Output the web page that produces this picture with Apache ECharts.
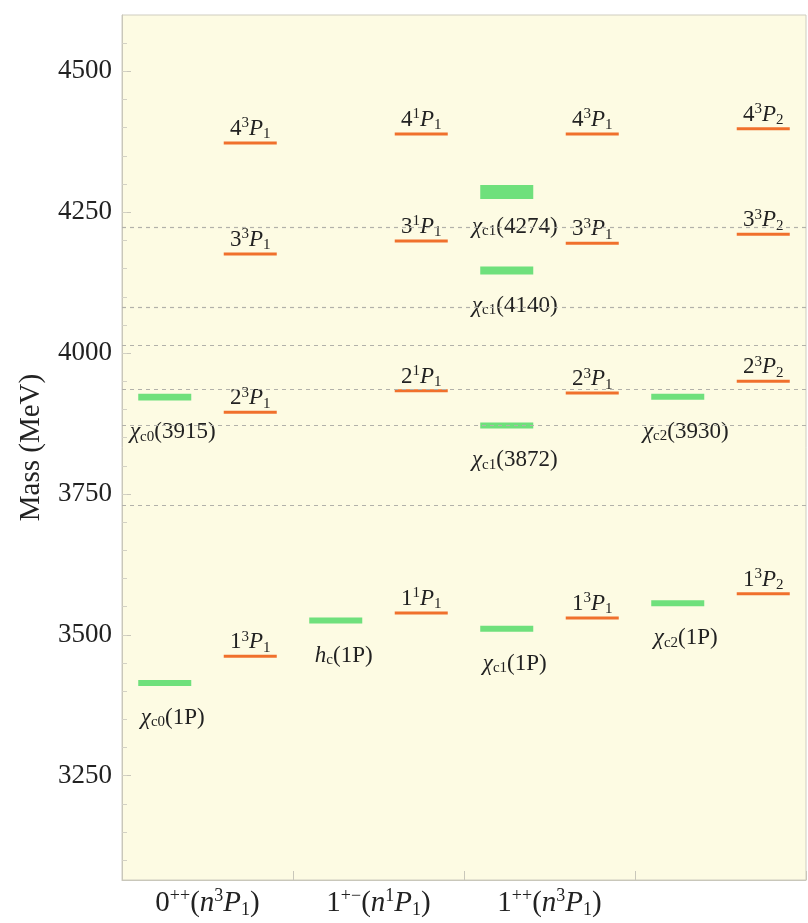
<!DOCTYPE html>
<html>
<head>
<meta charset="utf-8">
<script src="https://cdn.jsdelivr.net/npm/echarts@6/dist/echarts.min.js"></script>
<style>
  html, body { margin: 0; padding: 0; background: #ffffff; }
  #chart { width: 808px; height: 923px; }
</style>
</head>
<body>
<div id="chart"></div>
<script>
// J^PC columns and the spectroscopic notation used in their headings
const columns = ['0++', '1+−', '1++', ''];
const columnMult = ['3', '1', '3', ''];
const columnJ = ['1', '1', '1', ''];

// Observed charmonium-like states (MeV)
const expSymbol = ['χ', 'χ', 'h', 'χ', 'χ', 'χ', 'χ', 'χ', 'χ'];
const expSub    = ['c0', 'c0', 'c', 'c1', 'c1', 'c1', 'c1', 'c2', 'c2'];
const expTag    = ['1P', '3915', '1P', '1P', '3872', '4140', '4274', '1P', '3930'];
const expColumn = [0, 0, 1, 2, 2, 2, 2, 3, 3];
const expMass   = [3414.7, 3921.7, 3525.4, 3510.7, 3871.7, 4146.5, 4286.0, 3556.2, 3922.5];
const expError  = [0.3, 6.0, 0.1, 0.1, 0.1, 7.0, 12.5, 0.1, 1.0];

// Predicted n^{2S+1}P_J levels (MeV)
const thColumn = [0, 0, 0, 0, 1, 1, 1, 1, 2, 2, 2, 2, 3, 3, 3, 3];
const thN      = [1, 2, 3, 4, 1, 2, 3, 4, 1, 2, 3, 4, 1, 2, 3, 4];
const thMult   = ['3', '3', '3', '3', '1', '1', '1', '1', '3', '3', '3', '3', '3', '3', '3', '3'];
const thJ      = ['1', '1', '1', '1', '1', '1', '1', '1', '1', '1', '1', '1', '2', '2', '2', '2'];
const thMass   = [3462, 3895, 4176, 4373,
                  3539, 3933, 4199, 4389,
                  3530, 3929, 4195, 4389,
                  3573, 3950, 4211, 4398];

// Open-charm thresholds (MeV)
const thresholds = [3729.7, 3871.7, 3936.7, 4014.0, 4080.5, 4224.2];

// Axis ticks
const massTicks = [3250, 3500, 3750, 4000, 4250, 4500];
const massMin = 3065, massMax = 4600;
const minorTicks = [];
for (let v = 3100; v <= 4550; v += 50) minorTicks.push(v);

const SERIF = '"Liberation Serif", "Times New Roman", serif';
const INK = '#222222';
const GREEN = '#6fe07c';
const ORANGE = '#f0702c';

const levelRich = {
  n:   { fontFamily: SERIF, fontSize: 23, lineHeight: 26, fill: INK },
  i:   { fontFamily: SERIF, fontSize: 23, lineHeight: 26, fontStyle: 'italic', fill: INK },
  sup: { fontFamily: SERIF, fontSize: 15, lineHeight: 15, verticalAlign: 'top', fill: INK },
  sub: { fontFamily: SERIF, fontSize: 15, lineHeight: 14, verticalAlign: 'bottom', fill: INK }
};
const stateRich = {
  n:   { fontFamily: SERIF, fontSize: 23, lineHeight: 24, fill: INK },
  i:   { fontFamily: SERIF, fontSize: 23, lineHeight: 24, fontStyle: 'italic', fill: INK },
  sub: { fontFamily: SERIF, fontSize: 15, lineHeight: 13, verticalAlign: 'bottom', fill: INK }
};

function stateText(k) {
  return '{i|' + expSymbol[k] + '}{sub|' + expSub[k] + '}{n|(' + expTag[k] + ')}';
}
function levelText(k) {
  return '{n|' + thN[k] + '}{sup|' + thMult[k] + '}{i|P}{sub|' + thJ[k] + '}';
}

const chart = echarts.init(document.getElementById('chart'), null, { renderer: 'canvas' });

chart.setOption({
  animation: false,
  backgroundColor: '#ffffff',
  grid: {
    left: 122, right: 2, top: 15, bottom: 43,
    show: true, backgroundColor: '#fdfbe3', borderColor: '#cfcdc0', borderWidth: 1
  },
  xAxis: {
    type: 'category',
    data: columns,
    boundaryGap: true,
    axisLine: { show: true, lineStyle: { color: '#c9c7ba' } },
    axisTick: { show: true, inside: true, interval: 0, length: 9, lineStyle: { color: '#c9c7ba' } },
    splitLine: { show: false },
    axisLabel: {
      interval: 0,
      hideOverlap: false,
      margin: 7,
      color: INK,
      formatter: function (value, idx) {
        if (!value) return '';
        return '{n|' + value[0] + '}{sup|' + value.slice(1) + '}{n|(}{i|n}{sup|' +
          columnMult[idx] + '}{i|P}{sub|' + columnJ[idx] + '}{n|)}';
      },
      rich: {
        n:   { fontFamily: SERIF, fontSize: 29, lineHeight: 32, color: INK },
        i:   { fontFamily: SERIF, fontSize: 29, lineHeight: 32, fontStyle: 'italic', color: INK },
        sup: { fontFamily: SERIF, fontSize: 18, lineHeight: 17, verticalAlign: 'top', color: INK },
        sub: { fontFamily: SERIF, fontSize: 18, lineHeight: 16, verticalAlign: 'bottom', color: INK }
      }
    }
  },
  yAxis: [
    {
      type: 'value',
      min: massMin, max: massMax,
      name: 'Mass (MeV)',
      nameLocation: 'middle',
      nameGap: 76,
      nameTextStyle: { fontFamily: SERIF, fontSize: 29, color: INK },
      axisLine: { show: true, lineStyle: { color: '#c9c7ba' } },
      axisTick: { show: true, inside: true, length: 9, customValues: massTicks, lineStyle: { color: '#c9c7ba' } },
      axisLabel: {
        customValues: massTicks, margin: 10,
        fontFamily: SERIF, fontSize: 27, color: INK,
        formatter: v => String(v)
      },
      splitLine: { show: false }
    },
    {
      type: 'value',
      min: massMin, max: massMax,
      position: 'left',
      axisLine: { show: false },
      axisTick: { show: true, inside: true, length: 5, customValues: minorTicks, lineStyle: { color: '#d3d1c4' } },
      axisLabel: { show: false },
      splitLine: { show: false }
    }
  ],
  series: [
    {
      // predicted levels with open-charm threshold lines
      type: 'custom',
      xAxisIndex: 0, yAxisIndex: 0,
      encode: { x: 0, y: 1 },
      data: thMass.map((m, k) => [thColumn[k], m, k]),
      renderItem: function (params, api) {
        const band = api.size([1, 0])[0];
        const p = api.coord([api.value(0), api.value(1)]);
        const cx = p[0] + band * 0.25;
        const w = band * 0.31;
        const k = api.value(2);
        return {
          type: 'group',
          children: [
            { type: 'rect', shape: { x: cx - w / 2, y: p[1] - 1.5, width: w, height: 3 }, style: { fill: ORANGE } },
            {
              type: 'text',
              style: {
                x: cx, y: p[1] - 1,
                text: levelText(k),
                rich: levelRich,
                align: 'center', verticalAlign: 'bottom',
                fill: INK
              }
            }
          ]
        };
      },
      markLine: {
        silent: true,
        symbol: 'none',
        label: { show: false },
        lineStyle: { type: [4, 4], color: '#b2b1aa', width: 1.2 },
        data: thresholds.map(v => ({ yAxis: v }))
      }
    },
    {
      // observed states
      type: 'custom',
      xAxisIndex: 0, yAxisIndex: 0,
      encode: { x: 0, y: 1 },
      data: expMass.map((m, k) => [expColumn[k], m, expError[k], k]),
      renderItem: function (params, api) {
        const band = api.size([1, 0])[0];
        const col = api.value(0), m = api.value(1), e = api.value(2);
        const cx = api.coord([col, m])[0] - band * 0.25;
        const yTop = api.coord([col, m + e])[1];
        const yBot = api.coord([col, m - e])[1];
        const cy = (yTop + yBot) / 2;
        const h = Math.max(yBot - yTop, 6);
        const w = band * 0.31;
        const k = api.value(3);
        return {
          type: 'group',
          children: [
            { type: 'rect', shape: { x: cx - w / 2, y: cy - h / 2, width: w, height: h }, style: { fill: GREEN } },
            {
              type: 'text',
              style: {
                x: cx + 8, y: cy + 35,
                text: stateText(k),
                rich: stateRich,
                align: 'center', verticalAlign: 'middle',
                fill: INK
              }
            }
          ]
        };
      }
    }
  ]
});
</script>
</body>
</html>
